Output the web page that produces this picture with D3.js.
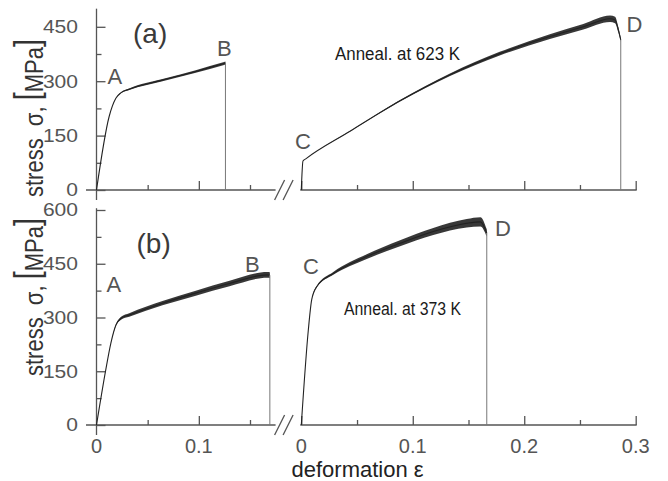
<!DOCTYPE html>
<html><head><meta charset="utf-8">
<script src="https://cdn.jsdelivr.net/npm/d3@7"></script>
<style>
body{margin:0;background:#fff}
svg{display:block}
text{font-family:"Liberation Sans",Arial,Helvetica,sans-serif}
</style>
</head><body>
<svg id="c" width="668" height="481"></svg>
<script>
// ---- data ----
// panel (a): before break (left axis) and after anneal at 623 K (right axis)
const topLeftEps     = [0, 0.0123, 0.0189, 0.0238, 0.0319, 0.0645, 0.097, 0.1247, 0.126];
const topLeftStress  = [0, 202, 253, 268, 278, 303, 327, 349, 350];
const topLeftNoise   = [0, 0, 0, 1, 2, 3, 3.5, 4, 4];
const topRightEps    = [0, 0.0015, 0.004, 0.0437, 0.0886, 0.1334, 0.178, 0.223, 0.253, 0.277, 0.2815, 0.2845, 0.2866];
const topRightStress = [0, 80, 86, 162, 246, 318, 376, 423, 450, 472, 469, 441, 414];
const topRightNoise  = [0, 0, 0, 0.5, 2, 3.5, 5, 6.5, 7.5, 9, 9, 7, 5];
// panel (b): before break and after anneal at 373 K
const botLeftEps     = [0, 0.009, 0.014, 0.019, 0.024, 0.032, 0.0645, 0.097, 0.13, 0.167, 0.1694];
const botLeftStress  = [0, 153, 228, 279, 298, 307, 340, 368, 395, 419, 418];
const botLeftNoise   = [0, 0, 0, 2, 4, 5, 6, 7, 7.5, 8, 8];
const botRightEps    = [0, 0.0063, 0.0093, 0.0138, 0.0287, 0.0587, 0.0886, 0.1184, 0.1484, 0.1607, 0.1664];
const botRightStress = [0, 265, 349, 386, 423, 470, 507, 540, 563, 567, 536];
const botRightNoise  = [0, 0, 0, 2, 4, 6.5, 8.5, 10, 12, 13, 10];

const yTicksTop      = [0, 150, 300, 450];
const yTicksBottom   = [0, 150, 300, 450, 600];
const xTicksLeft     = [0, 0.1];
const xTicksRight    = [0, 0.1, 0.2, 0.3];
const xTickText      = ["0", "0.1", "0.2", "0.3"];
const pointLetters   = ["A", "B", "C", "D"];
const panelTags      = ["(a)", "(b)"];
const annealTexts    = ["Anneal. at 623 K", "Anneal. at 373 K"];
const yTitle         = ["stress\u00a0\u00a0σ,\u00a0", "[", "MPa", "]"];
const xTitle         = "deformation ε";

// ---- scales ----
const svg = d3.select("#c");
svg.append("rect").attr("width", 668).attr("height", 481).attr("fill", "#fff");
const xL = d3.scaleLinear().domain([0, 0.15]).range([96.5, 250]);
const xR = d3.scaleLinear().domain([0, 0.3]).range([301.3, 635.7]);
const yT = d3.scaleLinear().domain([0, 450]).range([190, 26.8]);
const yB = d3.scaleLinear().domain([0, 600]).range([425, 210]);

const axisCol = "#555";
const zip = (e, s, n) => e.map((v, i) => ({e: v, s: s[i], n: n[i]}));

function panel(y, yAxisTopVal, yMajor, curves, letters, tag, anneal, showXLabels, titleBase) {
  const g = svg.append("g");
  const y0 = y(0);
  // axis lines
  g.append("line").attr("x1", xL(0)).attr("x2", xL(0)).attr("y1", y0 + 10).attr("y2", y(yAxisTopVal))
    .attr("stroke", axisCol).attr("stroke-width", 1.3);
  g.append("line").attr("x1", xL(0) - 10.5).attr("x2", xL(0.175)).attr("y1", y0).attr("y2", y0)
    .attr("stroke", axisCol).attr("stroke-width", 1.3);
  g.append("line").attr("x1", xR(0) - 1).attr("x2", xR(0.3) + 1).attr("y1", y0).attr("y2", y0)
    .attr("stroke", axisCol).attr("stroke-width", 1.3);
  // break marks
  const bx = xL(0.175);
  [0, 8.5].forEach(off => {
    g.append("line").attr("x1", bx - 1 + off).attr("y1", y0 + 10).attr("x2", bx + 9 + off).attr("y2", y0 - 10)
      .attr("stroke", axisCol).attr("stroke-width", 1.3);
  });
  // ticks
  const yMinor = d3.range(75, yMajor[yMajor.length - 1], 150);
  const tickAxis = (ax, tr) => {
    const a = g.append("g").attr("transform", tr).call(ax);
    a.select(".domain").remove();
    a.selectAll(".tick line").attr("stroke", axisCol).attr("stroke-width", 1.3);
    a.selectAll(".tick text").remove();
  };
  tickAxis(d3.axisRight(y).tickValues(yMajor).tickSize(9).tickFormat(""), `translate(${xL(0)},0)`);
  tickAxis(d3.axisRight(y).tickValues(yMinor).tickSize(5).tickFormat(""), `translate(${xL(0)},0)`);
  tickAxis(d3.axisTop(xL).tickValues([0.1]).tickSize(9).tickFormat(""), `translate(0,${y0})`);
  tickAxis(d3.axisTop(xL).tickValues([0.05, 0.15]).tickSize(5).tickFormat(""), `translate(0,${y0})`);
  tickAxis(d3.axisTop(xR).tickValues(xTicksRight).tickSize(9).tickFormat(""), `translate(0,${y0})`);
  tickAxis(d3.axisTop(xR).tickValues([0.05, 0.15, 0.25]).tickSize(5).tickFormat(""), `translate(0,${y0})`);
  // y tick labels
  yMajor.forEach(v => {
    g.append("text").attr("transform", `translate(78,${y(v)}) scale(1.17,1)`)
      .attr("text-anchor", "end").attr("dy", "0.36em").attr("font-size", 18).attr("fill", axisCol).text(v);
  });
  // x tick labels
  if (showXLabels) {
    xTicksLeft.forEach((v, i) => g.append("text").attr("x", xL(v)).attr("y", 453).attr("text-anchor", "middle")
      .attr("font-size", 20).attr("fill", axisCol).text(xTickText[i]));
    xTicksRight.forEach((v, i) => g.append("text").attr("x", xR(v)).attr("y", 453).attr("text-anchor", "middle")
      .attr("font-size", 20).attr("fill", axisCol).text(xTickText[i]));
  }
  // curves
  curves.forEach(c => {
    const d = zip(c.e, c.s, c.n);
    const x = c.x;
    g.append("path").datum(d)
      .attr("d", d3.area().x(p => x(p.e)).y0(p => y(p.s - p.n)).y1(p => y(p.s + p.n)).curve(d3.curveMonotoneX))
      .attr("fill", "#151515").attr("fill-opacity", 0.85);
    g.append("path").datum(d)
      .attr("d", d3.line().x(p => x(p.e)).y(p => y(p.s)).curve(d3.curveMonotoneX))
      .attr("fill", "none").attr("stroke", "#222").attr("stroke-width", 1.1);
    const last = d[d.length - 1];
    g.append("line").attr("x1", x(last.e)).attr("x2", x(last.e)).attr("y1", y(last.s)).attr("y2", y0)
      .attr("stroke", "#777").attr("stroke-width", 1);
  });
  // letters
  letters.forEach((l, i) => g.append("text").attr("x", l[0]).attr("y", l[1]).attr("font-size", 22)
    .attr("fill", "#555").text(pointLetters[i]));
  g.append("text").attr("x", tag[0]).attr("y", tag[1]).attr("font-size", 28).attr("fill", "#3a3a3a").text(tag[2]);
  g.append("text").attr("x", anneal[0]).attr("y", anneal[1]).attr("font-size", 17.5).attr("fill", "#1a1a1a")
    .attr("textLength", anneal[3]).attr("lengthAdjust", "spacingAndGlyphs").text(anneal[2]);
  // y title
  const t = g.append("text").attr("transform", `translate(43,${titleBase}) scale(1.2,1) rotate(-90)`)
    .attr("font-size", 22).attr("fill", "#333");
  t.append("tspan").text(yTitle[0]);
  t.append("tspan").attr("font-size", 29).attr("dy", -3).text(yTitle[1]);
  t.append("tspan").attr("font-size", 22).attr("dy", 3).text(yTitle[2]);
  t.append("tspan").attr("font-size", 29).attr("dy", -3).text(yTitle[3]);
}

panel(yT, 500, yTicksTop,
  [{x: xL, e: topLeftEps, s: topLeftStress, n: topLeftNoise},
   {x: xR, e: topRightEps, s: topRightStress, n: topRightNoise}],
  [[107.5, 83.5], [217, 55.5], [295, 148.5], [626.5, 32]],
  [133, 43, panelTags[0]], [335, 60, annealTexts[0], 125], false, 197);

panel(yB, 605, yTicksBottom,
  [{x: xL, e: botLeftEps, s: botLeftStress, n: botLeftNoise},
   {x: xR, e: botRightEps, s: botRightStress, n: botRightNoise}],
  [[106.5, 292], [245, 271.5], [303, 273.5], [495, 235.5]],
  [136.5, 253, panelTags[1]], [344, 315, annealTexts[1], 117], true, 376);

svg.append("text").attr("x", 291.5).attr("y", 476.5).attr("font-size", 22).attr("fill", "#222").text(xTitle);
</script>
</body></html>
